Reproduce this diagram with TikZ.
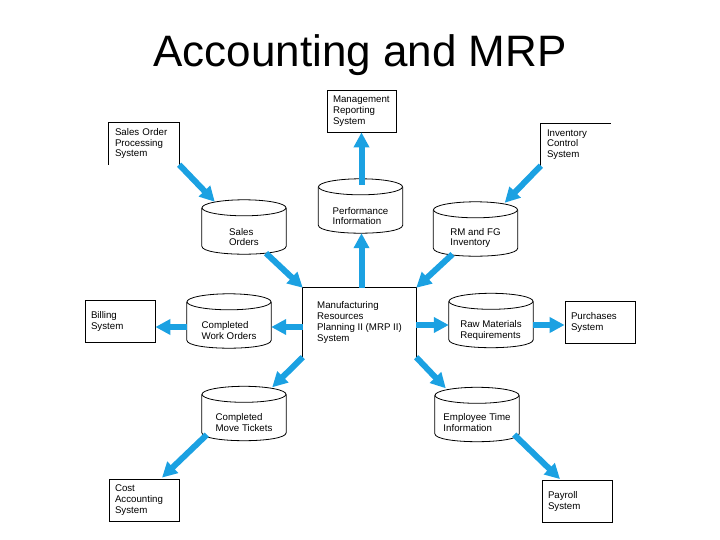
\documentclass[tikz,border=0pt]{standalone}
\usepackage{fontspec}
\setmainfont{Liberation Sans}
\usetikzlibrary{arrows.meta,calc}
\definecolor{arrowblue}{RGB}{27,161,226}
\tikzset{
  lbl/.style={font=\fontsize{9.7}{10.8}\selectfont, align=left, inner sep=0pt},
  boxtext/.style={lbl, text width=58pt, inner xsep=6pt, inner ysep=0pt, minimum height=42pt},
  sysbox/.style={boxtext, draw, line width=0.8pt},
  openbox/.style={boxtext},
  boxline/.style={line width=0.8pt},
  cylbox/.style={inner sep=0pt, minimum width=84pt, minimum height=54pt},
  cylline/.style={line width=0.8pt},
  flow/.style={draw=arrowblue, line width=6pt, -{Triangle[length=15pt,width=15pt]}},
}
\newcommand\mycyl[5]{%
  \node[cylbox] (#1) at (#2,#3) {};
  \draw[cylline] ([yshift=-8pt]#1.north) ellipse [x radius=42pt, y radius=8pt];
  \draw[cylline] ([yshift=-8pt]#1.north west) -- ([yshift=8pt]#1.south west)
     .. controls +(0,-10.67pt) and +(0,-10.67pt) .. ([yshift=8pt]#1.south east)
     -- ([yshift=-8pt]#1.north east);
  \node[lbl] (#1-t) at ($(#1.center)+(0,#5)$) {#4};
}
\begin{document}
\begin{tikzpicture}[x=1pt,y=-1pt]
\useasboundingbox (0,0) rectangle (720,540);
% title
\node[font=\fontsize{44}{50}\selectfont, anchor=base, inner sep=0pt] (title) at (360,67) {Accounting and MRP};

% systems
\node[sysbox, text width=57pt] (mrs) at (361.5,111) {Management\\Reporting\\System};
\node[openbox] (sop) at (144,143.5) {Sales Order\\Processing\\System};
\draw[boxline] (sop.south west) |- (sop.north east) -- (sop.south east);
\node[openbox] (ics) at (576,144.5) {Inventory\\Control\\System};
\draw[boxline] (ics.south west) |- (ics.north east);
\node[sysbox] (bil) at (120,321.5) {Billing\\System};
\node[sysbox] (pur) at (600,322.5) {Purchases\\System};
\node[sysbox] (cas) at (144,500) {Cost\\Accounting\\System};
\node[sysbox] (pay) at (577,501.5) {Payroll\\System};
\node[lbl, minimum width=113pt, minimum height=69pt] (mrp) at (359.5,322.5)
  {Manufacturing\\Resources\\Planning II (MRP II)\\System};
\draw[boxline] (mrp.south west) |- (mrp.north east) -- (mrp.south east);

% data stores
\mycyl{so}{244}{227}{Sales\\Orders}{10}
\mycyl{pi}{360.5}{206}{Performance\\Information}{10}
\mycyl{rf}{475.5}{229}{RM and FG\\Inventory}{9}
\mycyl{cwo}{229}{321}{Completed\\Work Orders}{9.5}
\mycyl{rmr}{491}{320.5}{Raw Materials\\Requirements}{10}
\mycyl{cmt}{244}{413.5}{Completed\\Move Tickets}{9}
\mycyl{eti}{477}{414.5}{Employee Time\\Information}{8}

% flows
\draw[flow] (sop.south east) -- ($(so.north west)+(13,2)$);
\draw[flow] ($(so.south)+(22,-1)$) -- (mrp.north west);
\draw[flow] (mrp.north -| mrs.south) -- (pi.south -| mrs.south);
\draw[flow] ($(pi.north -| mrs.south)+(0,6)$) -- (mrs.south);
\draw[flow] (ics.south west) -- ($(rf.north east)+(-13,1)$);
\draw[flow] ($(rf.south)+(-23,-2)$) -- (mrp.north east);
\draw[flow] ($(mrp.west)+(0,4.5)$) -- ($(cwo.east)+(0,6)$);
\draw[flow] ($(cwo.west)+(0,6)$) -- ($(bil.east)+(0,5.5)$);
\draw[flow] ($(mrp.east)+(0,2.5)$) -- ($(rmr.west)+(0,4.5)$);
\draw[flow] ($(rmr.east)+(0,4.5)$) -- ($(pur.west)+(0,2.5)$);
\draw[flow] (mrp.south west) -- ($(cmt.north east)+(-14,1)$);
\draw[flow] ($(cmt.south west)+(5,-6)$) -- ($(cas.north)+(18,-1)$);
\draw[flow] (mrp.south east) -- ($(eti.north west)+(11,1)$);
\draw[flow] ($(eti.south east)+(-5,-7)$) -- ($(pay.north)+(-17,-1)$);
\end{tikzpicture}
\end{document}
